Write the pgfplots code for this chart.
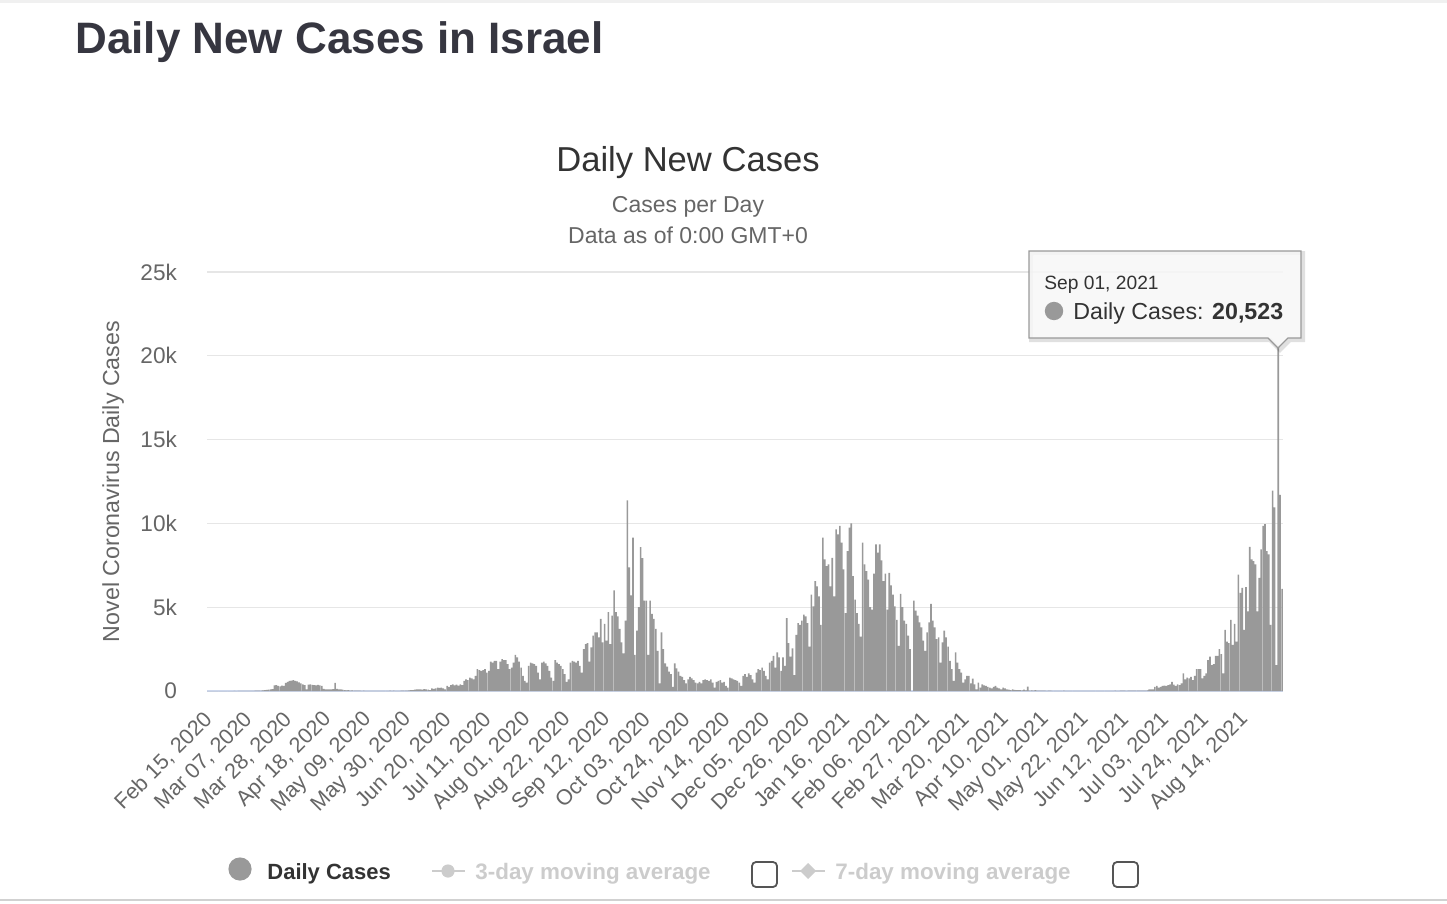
\documentclass[border=0pt]{standalone}
\usepackage{pgfplots}
\pgfplotsset{compat=1.18}
\usepackage{pgfplotstable}
\usepackage{fontspec}
\setmainfont{Liberation Sans}
\definecolor{barc}{HTML}{999999}
\definecolor{gridc}{HTML}{E6E6E6}
\definecolor{axisc}{HTML}{CCD6EB}
\definecolor{txt}{HTML}{333333}
\definecolor{sub}{HTML}{666666}
\definecolor{head}{HTML}{363640}
\definecolor{light}{HTML}{CCCCCC}
\definecolor{boxc}{HTML}{555555}

\pgfplotstableread[header=false,row sep=\\]{
0\\0\\0\\0\\0\\0\\0\\
0\\0\\0\\0\\0\\0\\0\\
1\\0\\2\\3\\2\\2\\5\\
4\\5\\10\\12\\25\\30\\30\\
25\\40\\50\\70\\80\\90\\110\\
330\\350\\300\\280\\320\\300\\480\\
550\\600\\620\\650\\600\\580\\520\\
450\\400\\350\\100\\380\\400\\370\\
350\\340\\360\\330\\300\\120\\100\\
90\\100\\95\\110\\480\\120\\100\\
90\\80\\50\\40\\60\\30\\40\\
30\\20\\25\\20\\15\\20\\15\\
10\\15\\12\\10\\8\\10\\5\\
8\\10\\15\\12\\10\\20\\15\\
20\\15\\10\\12\\20\\25\\30\\
20\\40\\60\\50\\80\\100\\90\\
100\\80\\110\\90\\80\\60\\150\\
120\\150\\200\\180\\200\\150\\100\\
300\\250\\350\\400\\330\\380\\320\\
400\\350\\600\\700\\650\\800\\750\\
700\\900\\1300\\1250\\1200\\1250\\1300\\
1100\\1200\\1750\\1700\\1800\\1800\\1300\\
1750\\1900\\1850\\1850\\1600\\1300\\1400\\
1700\\2150\\2000\\1750\\1400\\900\\600\\
500\\1500\\1700\\1650\\1600\\1500\\1100\\
700\\1700\\1750\\1650\\1500\\1200\\800\\
600\\1850\\1700\\1600\\1500\\1300\\1000\\
550\\700\\1700\\1800\\1750\\1700\\1800\\
1500\\1100\\2500\\2800\\2850\\1750\\2600\\
3300\\3500\\3500\\3200\\4300\\2900\\4000\\
3000\\4700\\2800\\4500\\6000\\4700\\4450\\
3700\\2900\\2250\\4200\\11370\\7370\\5700\\
9150\\2150\\3600\\5000\\8580\\7930\\5400\\
5400\\2150\\5400\\4600\\4300\\3700\\2400\\
450\\3500\\2500\\1650\\1450\\1150\\1000\\
250\\1650\\1350\\1150\\900\\850\\650\\
450\\700\\850\\750\\650\\500\\450\\
550\\450\\650\\700\\650\\600\\700\\
500\\200\\550\\600\\650\\500\\550\\
300\\200\\800\\750\\700\\650\\600\\
500\\300\\900\\1000\\850\\1050\\950\\
700\\500\\1100\\1300\\1250\\1400\\1200\\
900\\700\\1700\\1800\\2100\\1400\\2300\\
2000\\1200\\2000\\1500\\4350\\2850\\2050\\
2550\\950\\3350\\4050\\3950\\4200\\4550\\
4450\\4050\\2650\\5750\\5050\\6550\\6250\\
5650\\3950\\9150\\7850\\7450\\7550\\6250\\
7950\\5650\\9650\\9350\\9850\\8850\\7250\\
4650\\8350\\9750\\10000\\6850\\5450\\4650\\
4000\\3250\\8850\\7550\\7150\\6650\\5000\\
4850\\7000\\8750\\8250\\8750\\7800\\6550\\
7000\\4850\\7050\\6300\\5750\\5050\\4250\\
2700\\5800\\5000\\4200\\4000\\3300\\2500\\
0\\5400\\4800\\4500\\4100\\3800\\3000\\
2400\\3500\\4100\\5200\\4200\\3800\\3100\\
3200\\1700\\2900\\3600\\3200\\2650\\1800\\
1300\\600\\2300\\1700\\1300\\1100\\500\\
700\\900\\900\\460\\740\\400\\100\\
500\\200\\400\\340\\300\\250\\200\\
150\\250\\300\\200\\150\\100\\200\\
150\\100\\80\\60\\100\\70\\50\\
60\\50\\40\\80\\40\\260\\30\\
40\\30\\50\\30\\20\\30\\20\\
20\\15\\30\\20\\15\\10\\10\\
10\\15\\10\\20\\10\\5\\10\\
10\\5\\10\\10\\5\\10\\10\\
5\\10\\10\\15\\10\\5\\10\\
10\\15\\10\\5\\10\\10\\15\\
10\\15\\20\\15\\10\\20\\25\\
20\\15\\20\\25\\30\\20\\25\\
30\\25\\30\\20\\30\\40\\100\\
100\\90\\250\\300\\200\\250\\300\\
320\\300\\350\\400\\550\\380\\300\\
400\\350\\450\\1050\\700\\800\\750\\
850\\650\\900\\1300\\1300\\1300\\750\\
900\\1050\\1850\\2050\\1550\\1600\\2100\\
2100\\2500\\2200\\1050\\3650\\2950\\2850\\
4250\\2750\\4000\\2950\\6950\\5850\\6150\\
3650\\6200\\4750\\8600\\7850\\7750\\7550\\
4750\\6750\\8450\\9850\\9950\\8350\\8150\\
3950\\11950\\10950\\1550\\20523\\11700\\6100\\
}\daily

\begin{document}
\begin{tikzpicture}
\path[use as bounding box] (0,0) rectangle (723.5pt,-452pt);
\begin{axis}[
  at={(103.5pt,-345.5pt)}, anchor=south west,
  scale only axis, width=538pt, height=209.5pt,
  xmin=-0.5, xmax=566.5, ymin=0, ymax=25000,
  ybar, bar width=0.85,
  axis x line*=bottom, axis y line*=left,
  x axis line style={draw=axisc, line width=0.6pt, -},
  y axis line style={draw=none},
  ymajorgrids, grid style={draw=gridc, line width=0.6pt},
  major tick length=0pt,
  scaled y ticks=false,
  /pgf/number format/assume math mode=true,
  ytick={0,5000,10000,15000,20000,25000},
  yticklabels={0,5k,10k,15k,20k,25k},
  yticklabel style={font=\fontsize{11.3}{13}\selectfont, text=sub, xshift=-11.5pt},
  xtick={0,21,...,546},
  xticklabels={{Feb 15, 2020},{Mar 07, 2020},{Mar 28, 2020},{Apr 18, 2020},{May 09, 2020},{May 30, 2020},{Jun 20, 2020},{Jul 11, 2020},{Aug 01, 2020},{Aug 22, 2020},{Sep 12, 2020},{Oct 03, 2020},{Oct 24, 2020},{Nov 14, 2020},{Dec 05, 2020},{Dec 26, 2020},{Jan 16, 2021},{Feb 06, 2021},{Feb 27, 2021},{Mar 20, 2021},{Apr 10, 2021},{May 01, 2021},{May 22, 2021},{Jun 12, 2021},{Jul 03, 2021},{Jul 24, 2021},{Aug 14, 2021}},
  xticklabel style={font=\fontsize{10.8}{13}\selectfont, text=sub, xshift=0.5pt, yshift=-12.5pt, rotate=45, anchor=east, inner sep=0pt},
]
\addplot[fill=barc, draw=none, bar shift=0pt] table[x expr=\coordindex, y index=0] {\daily};
\end{axis}
\begin{scope}[x=0.5pt, y=-0.5pt]
  \fill[black!6] (0,0) rectangle (1447,3);
  \draw[black!18, line width=0.8pt] (0,900) -- (1447,900);
  \node[anchor=base west, inner sep=0pt, text=head, font=\fontsize{22}{26}\bfseries\selectfont] at (75,54) {Daily New Cases in Israel};
  \node[anchor=base, inner sep=0pt, text=txt, font=\fontsize{17.3}{20}\selectfont] at (688,172) {Daily New Cases};
  \node[anchor=base, inner sep=0pt, text=sub, font=\fontsize{11.5}{14}\selectfont] at (688,213) {Cases per Day};
  \node[anchor=base, inner sep=0pt, text=sub, font=\fontsize{11.5}{14}\selectfont] at (688,243) {Data as of 0:00 GMT+0};
  \node[rotate=90, inner sep=0pt, text=sub, font=\fontsize{11.6}{14}\selectfont] at (113,481.5) {Novel Coronavirus Daily Cases};
  % tooltip
  \draw[black, opacity=0.12, line width=2pt] (1031,253) -- (1303,253) -- (1303,340) -- (1290,340) -- (1280,350) -- (1270,340) -- (1031,340) -- cycle;
  \filldraw[fill=white!97!black, fill opacity=0.88, draw=barc, line width=0.6pt] (1029,251) -- (1301,251) -- (1301,338) -- (1288,338) -- (1278,348) -- (1268,338) -- (1029,338) -- cycle;
  \node[anchor=base west, inner sep=0pt, text=txt, font=\fontsize{9.6}{12}\selectfont] at (1044,289) {Sep 01, 2021};
  \fill[barc] (1054,311) circle (4.6pt);
  \node[anchor=base west, inner sep=0pt, text=txt, font=\fontsize{11.6}{14}\selectfont] at (1073,319) {Daily Cases: \textbf{20,523}};
  % legend
  \fill[barc] (240,869) circle (5.8pt);
  \node[anchor=base west, inner sep=0pt, text=txt, font=\fontsize{11}{13}\bfseries\selectfont] at (267,879) {Daily Cases};
  \draw[light, line width=1.2pt] (432,871) -- (465,871);
  \fill[light] (448,871) circle (3.3pt);
  \node[anchor=base west, inner sep=0pt, text=light, font=\fontsize{11.2}{13}\bfseries\selectfont] at (475,879) {3-day moving average};
  \draw[boxc, line width=0.9pt, rounded corners=2pt] (752,862) rectangle (777,887);
  \draw[light, line width=1.2pt] (792,871) -- (825,871);
  \fill[light] (808,863) -- (816,871) -- (808,879) -- (800,871) -- cycle;
  \node[anchor=base west, inner sep=0pt, text=light, font=\fontsize{11.2}{13}\bfseries\selectfont] at (835,879) {7-day moving average};
  \draw[boxc, line width=0.9pt, rounded corners=2pt] (1113,862) rectangle (1138,887);
\end{scope}
\end{tikzpicture}
\end{document}
